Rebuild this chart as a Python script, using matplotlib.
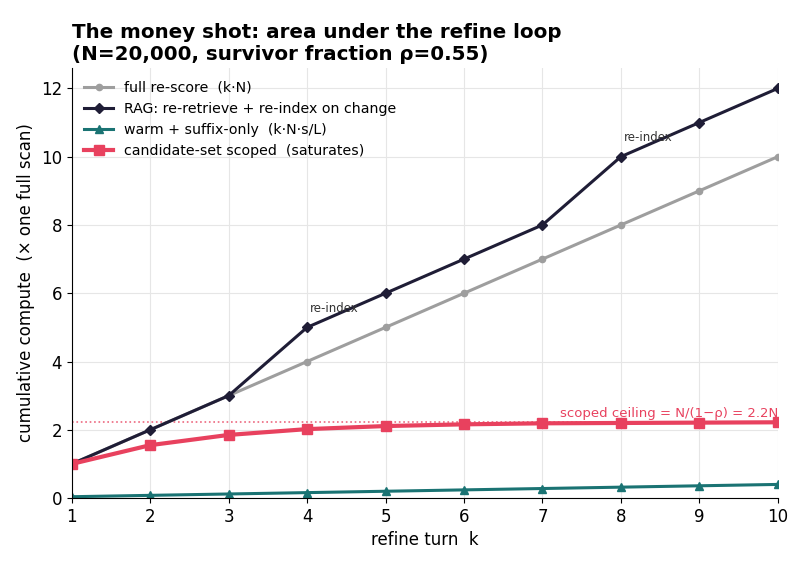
import matplotlib
matplotlib.use("Agg")
import matplotlib.pyplot as plt

k = [1, 2, 3, 4, 5, 6, 7, 8, 9, 10]
full_rescore = [1, 2, 3, 4, 5, 6, 7, 8, 9, 10]
rag = [1, 2, 3, 5, 6, 7, 8, 10, 11, 12]
warm_suffix = [0.04, 0.08, 0.12, 0.16, 0.20, 0.24, 0.28, 0.32, 0.36, 0.40]
scoped = [1.0, 1.55, 1.85, 2.02, 2.11, 2.16, 2.19, 2.20, 2.21, 2.22]
ceiling = 2.22
reindex_turns = [4, 8]
reindex_vals = [5, 10]

fig, ax = plt.subplots(figsize=(8.06, 5.66), dpi=100)
fig.subplots_adjust(left=0.089, right=0.965, top=0.88, bottom=0.12)

ax.grid(True, color="#e6e6e6", linewidth=0.8)
ax.set_axisbelow(True)
for s in ["top", "right"]:
    ax.spines[s].set_visible(False)

ax.plot(k, full_rescore, color="#9e9e9e", lw=2.2, marker="o", ms=4.5, label="full re-score  (k·N)")
ax.plot(k, rag, color="#1f1d36", lw=2.2, marker="D", ms=5, label="RAG: re-retrieve + re-index on change")
ax.plot(k, warm_suffix, color="#1a7373", lw=2.2, marker="^", ms=6, label="warm + suffix-only  (k·N·s/L)")
ax.plot(k, scoped, color="#e8415e", lw=3, marker="s", ms=7, label="candidate-set scoped  (saturates)")
ax.axhline(ceiling, color="#e8415e", lw=1.2, ls=":", alpha=0.8, zorder=1)
ax.text(10, ceiling + 0.08, "scoped ceiling = N/(1\u2212\u03c1) = 2.2N", color="#e8415e",
        ha="right", va="bottom", fontsize=9.5)

for t, v in zip(reindex_turns, reindex_vals):
    ax.text(t + 0.04, v + 0.55, "re-index", fontsize=8.5, color="#333333", ha="left", va="center")

ax.set_xlim(1, 10)
ax.set_ylim(0, 12.6)
ax.set_xticks(k)
ax.set_yticks([0, 2, 4, 6, 8, 10, 12])
ax.tick_params(labelsize=12)
ax.set_xlabel("refine turn  k", fontsize=12)
ax.set_ylabel("cumulative compute  (\u00d7 one full scan)", fontsize=12)
ax.set_title("The money shot: area under the refine loop\n(N=20,000, survivor fraction \u03c1=0.55)",
             loc="left", fontsize=14.3, fontweight="bold")
ax.legend(loc="upper left", frameon=False, fontsize=10.2)

fig.savefig("out.png", dpi=100)
